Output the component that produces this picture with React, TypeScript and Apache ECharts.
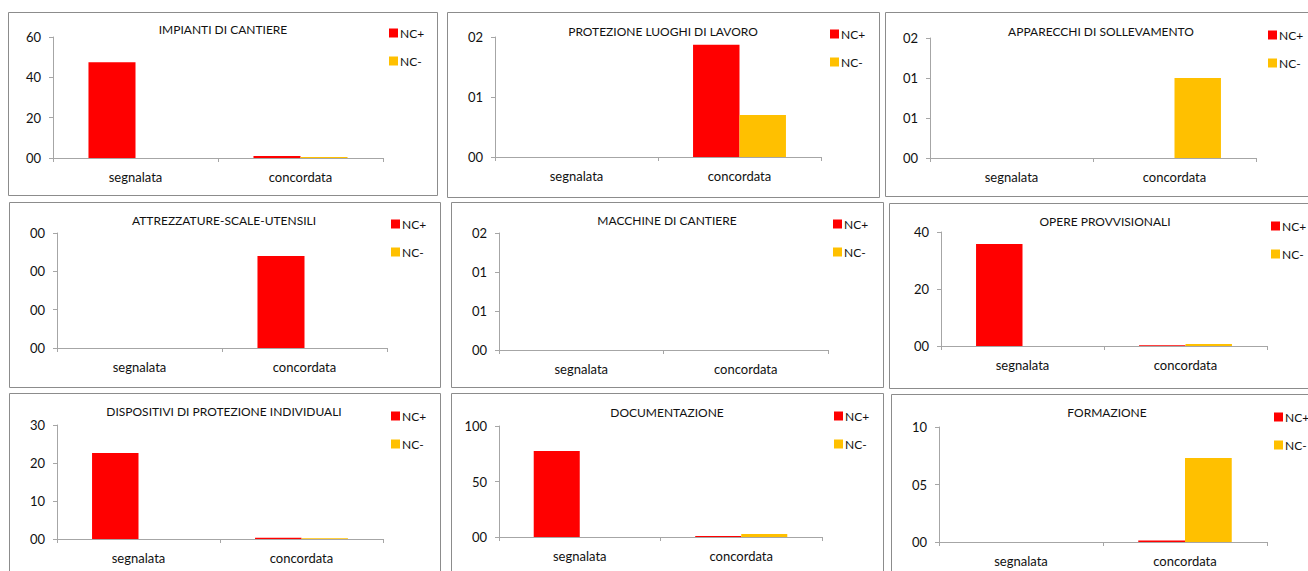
import React, { useEffect, useRef } from "react";
import * as echarts from "echarts";

const categories = ["segnalata", "concordata"];
const seriesNames = ["NC+", "NC-"];

const titles = [
  "IMPIANTI DI CANTIERE",
  "PROTEZIONE LUOGHI DI LAVORO",
  "APPARECCHI DI SOLLEVAMENTO",
  "ATTREZZATURE-SCALE-UTENSILI",
  "MACCHINE DI CANTIERE",
  "OPERE PROVVISIONALI",
  "DISPOSITIVI DI PROTEZIONE INDIVIDUALI",
  "DOCUMENTAZIONE",
  "FORMAZIONE",
];

const ncPlus = [
  [47.5, 1.0],
  [0, 1.87],
  [0, 0],
  [0, 2.4],
  [0, 0],
  [35.8, 0.3],
  [22.6, 0.3],
  [77.5, 1.0],
  [0, 0.12],
];
const ncMinus = [
  [0, 0.5],
  [0, 0.7],
  [0, 2],
  [0, 0],
  [0, 0],
  [0, 0.7],
  [0, 0.2],
  [0, 2.7],
  [0, 7.3],
];

const yMax = [60, 2, 3, 3, 3, 40, 30, 100, 10];
const yInterval = [20, 1, 1, 1, 1, 20, 10, 50, 5];
const yTickLabels = [
  ["00", "20", "40", "60"],
  ["00", "01", "02"],
  ["00", "01", "01", "02"],
  ["00", "00", "00", "00"],
  ["00", "01", "01", "02"],
  ["00", "20", "40"],
  ["00", "10", "20", "30"],
  ["00", "50", "100"],
  ["00", "05", "10"],
];

// layout (pixels)
const grids = [
  [53, 37, 330, 121],
  [495, 37, 326, 120],
  [930, 38, 326, 120],
  [57, 233, 330, 115],
  [499, 233, 329, 117],
  [941, 232, 326, 114],
  [57, 425, 326, 114],
  [499, 426, 323, 111],
  [939, 427, 328, 115],
];
const boxes = [
  [8, 12, 429, 183],
  [447, 12, 432, 185],
  [885, 12, 440, 184],
  [9, 202, 431, 185],
  [451, 202, 432, 185],
  [889, 203, 440, 185],
  [9, 393, 431, 200],
  [451, 393, 432, 200],
  [891, 394, 440, 200],
];
const titlePos = [
  [223, 31],
  [663, 33],
  [1101, 33],
  [224, 222],
  [667, 222],
  [1105, 223],
  [224, 413],
  [667, 414],
  [1107, 414],
];
const legendPos = [
  [389, 27],
  [830, 28],
  [1268, 29],
  [391, 218],
  [833, 218],
  [1271, 220],
  [391, 410],
  [834, 410],
  [1274, 411],
];

const FONT = "Lato, 'Noto Sans', sans-serif";
const AXIS = "#a6a6a6";
const TEXT = "#111111";

export default function App() {
  const ref = useRef<HTMLDivElement>(null);
  useEffect(() => {
    if (!ref.current) return;
    const chart = echarts.init(ref.current, undefined, { renderer: "svg" });
    const n = titles.length;
    const option: any = {
      animation: false,
      textStyle: { fontFamily: FONT },
      grid: grids.map((g) => ({ left: g[0], top: g[1], width: g[2], height: g[3], containLabel: false })),
      title: titles.map((t, i) => ({
        text: t,
        left: titlePos[i][0],
        top: titlePos[i][1] - 8,
        textAlign: "center",
        padding: 0,
        textStyle: { fontFamily: FONT, fontSize: 12, fontWeight: "normal", color: TEXT },
      })),
      legend: legendPos.map((p) => ({
        data: seriesNames,
        orient: "vertical",
        left: p[0],
        top: p[1],
        padding: 0,
        itemWidth: 9,
        itemHeight: 9,
        itemGap: 16,
        icon: "rect",
        selectedMode: false,
        textStyle: { fontFamily: FONT, fontSize: 12, color: TEXT, padding: [0, 0, 0, -3] },
      })),
      xAxis: grids.map((_, i) => ({
        type: "category",
        gridIndex: i,
        data: categories,
        axisLine: { lineStyle: { color: AXIS } },
        axisTick: { show: true, length: 4, lineStyle: { color: AXIS } },
        axisLabel: { color: TEXT, fontSize: 13, fontFamily: FONT, margin: 12 },
        splitLine: { show: false },
      })),
      yAxis: grids.map((_, i) => ({
        type: "value",
        gridIndex: i,
        min: 0,
        max: yMax[i],
        interval: yInterval[i],
        axisLine: { show: true, lineStyle: { color: AXIS } },
        axisTick: { show: true, length: 4, lineStyle: { color: AXIS } },
        splitLine: { show: false },
        axisLabel: {
          color: TEXT,
          fontSize: 13,
          fontFamily: FONT,
          margin: 12,
          formatter: (v: number) => yTickLabels[i][Math.round(v / yInterval[i])] ?? "",
        },
      })),
      series: [] as any[],
      graphic: boxes.map((b) => ({
        type: "rect",
        shape: { x: b[0] + 0.5, y: b[1] + 0.5, width: b[2], height: b[3] },
        style: { fill: "none", stroke: "#8c8c8c", lineWidth: 1 },
        silent: true,
        z: -1,
      })),
    };
    for (let i = 0; i < n; i++) {
      option.series.push({
        name: "NC+",
        type: "bar",
        xAxisIndex: i,
        yAxisIndex: i,
        data: ncPlus[i],
        itemStyle: { color: "#FF0000" },
        barGap: "0%",
        barCategoryGap: "43%",
      });
      option.series.push({
        name: "NC-",
        type: "bar",
        xAxisIndex: i,
        yAxisIndex: i,
        data: ncMinus[i],
        itemStyle: { color: "#FFC000" },
        barGap: "0%",
        barCategoryGap: "43%",
      });
    }
    chart.setOption(option);
    return () => chart.dispose();
  }, []);
  return (
    <div
      ref={ref}
      style={{ position: "fixed", left: 0, top: 0, width: 1308, height: 571, background: "#fff" }}
    />
  );
}
